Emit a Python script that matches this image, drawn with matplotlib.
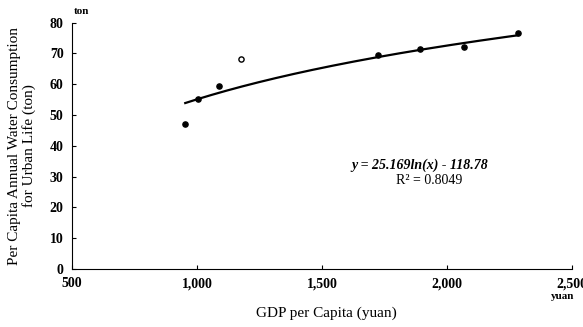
import matplotlib.pyplot as plt
import numpy as np

plt.rcParams['font.family'] = ['Liberation Serif', 'DejaVu Serif']

# data
gdp = [953, 1006, 1089, 1176, 1724, 1893, 2070, 2285]
water = [47.2, 55.3, 59.3, 68.3, 69.6, 71.3, 72.0, 76.5]
hollow = [False, False, False, True, False, False, False, False]
coef_a, coef_b = 25.169, -118.78
x_ticks = [500, 1000, 1500, 2000, 2500]
x_tick_labels = ['500', '1,000', '1,500', '2,000', '2,500']
y_ticks = [0, 10, 20, 30, 40, 50, 60, 70, 80]

fig = plt.figure(figsize=(5.83, 3.27), dpi=100)
ax = fig.add_axes([0.1235, 0.1774, 0.8575, 0.7536])

gdp = np.array(gdp)
water = np.array(water)
hollow = np.array(hollow)

xs = np.linspace(gdp.min(), gdp.max(), 200)
ax.plot(xs, coef_a * np.log(xs) + coef_b, color='black', lw=1.6, zorder=2)

ax.scatter(gdp[~hollow], water[~hollow], s=14, color='black', zorder=3)
ax.scatter(gdp[hollow], water[hollow], s=14, facecolor='white',
           edgecolor='black', lw=1.0, zorder=3)

ax.set_xlim(500, 2500)
ax.set_ylim(0, 80)
ax.set_xticks(x_ticks)
ax.set_xticklabels(x_tick_labels)
ax.set_yticks(y_ticks)
for lbl in ax.get_xticklabels() + ax.get_yticklabels():
    lbl.set_fontweight('bold')
    lbl.set_fontsize(10)
ax.tick_params(axis='x', direction='in', length=3, width=0.8, pad=6)
ax.tick_params(axis='y', direction='in', length=3, width=0.8, pad=6)
ax.spines['top'].set_visible(False)
ax.spines['right'].set_visible(False)

ax.set_ylabel('Per Capita Annual Water Consumption\nfor Urban Life (ton)',
              fontsize=11, labelpad=10, linespacing=1.05)
fig.text(0.56, 0.03, 'GDP per Capita (yuan)', fontsize=11, ha='center')
fig.text(0.127, 0.98, 'ton', fontsize=8, fontweight='bold', ha='left', va='top')
fig.text(0.965, 0.085, 'yuan', fontsize=8, fontweight='bold', ha='center')

ax.text(0.695, 0.405, 'y = 25.169ln(x) - 118.78', transform=ax.transAxes,
        fontsize=10, style='italic', fontweight='bold', ha='center')
ax.text(0.715, 0.345, 'R\u00b2 = 0.8049', transform=ax.transAxes,
        fontsize=10, ha='center')

fig.savefig('out.png', dpi=100)
